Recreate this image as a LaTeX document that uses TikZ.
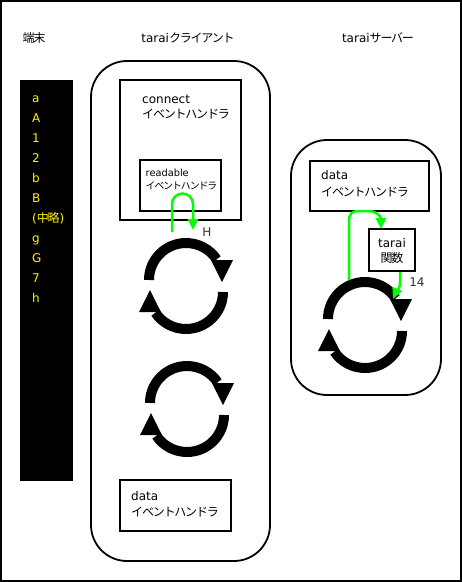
\documentclass[tikz,border=0pt]{standalone}
\usepackage{fontspec}
\setmainfont{DejaVu Sans}
\newfontfamily\jpfont{Noto Sans CJK JP}[LetterSpace=-10]
\newcommand\jp[1]{{\jpfont #1}}
\usetikzlibrary{arrows.meta}
\tikzset{
  box/.style={draw, line width=1.8pt, inner sep=0pt},
  roundbox/.style={draw, line width=1.8pt, rounded corners=36pt, inner sep=0pt},
  txt/.style={anchor=base west, inner sep=0pt, font=\fontsize{12}{14}\selectfont},
  smalltxt/.style={anchor=base west, inner sep=0pt, font=\fontsize{9.8}{12}\selectfont},
  title/.style={anchor=base, inner sep=0pt, font=\fontsize{12}{14}\selectfont},
  termtxt/.style={anchor=base west, inner sep=0pt, text=yellow, font=\fontsize{12}{14}\selectfont},
  lbl/.style={anchor=base, inner sep=0pt, text=black!80, font=\fontsize{12}{14}\selectfont},
  garrow/.style={draw=green, line width=2.5pt, -{Triangle[length=11pt,width=10pt]}},
  pics/loopicon/.style={code={
    \draw[line width=10pt] (-37,6) arc[start angle=180,end angle=34,radius=37pt];
    \fill (25,26) -- (47,26) -- (36,4) -- cycle;
    \draw[line width=10pt] (37,-6) arc[start angle=0,end angle=-146,radius=37pt];
    \fill (-25,-26) -- (-47,-26) -- (-36,-4) -- cycle;
  }}
}
\begin{document}
\begin{tikzpicture}[x=1pt,y=1pt]
\useasboundingbox (0,0) rectangle (462,-582);
\fill[white] (0,0) rectangle (462,-582);
\draw[line width=2pt] (1,-1) rectangle (461,-581);

% titles
\node[title] (tterm) at (34,-42) {\jp{端末}};
\node[title] (tclient) at (188,-42) {tarai\jp{クライアント}};
\node[title] (tserver) at (378,-42) {tarai\jp{サーバー}};

% terminal
\node[fill=black, minimum width=53pt, minimum height=401pt, inner sep=0pt] (term) at (46.5,-280.5) {};
\foreach \t [count=\i] in {a,A,1,2,b,B,{(\jp{中略})},g,G,7,h}
  \node[termtxt] (term\i) at (32,{-102-20*(\i-1)}) {\t};

% client
\node[roundbox, minimum width=179pt, minimum height=500pt] (client) at (180.5,-311) {};
\node[box, minimum width=121pt, minimum height=140pt] (connect) at (180.5,-150) {};
\node[txt] (c1) at (142,-103) {connect};
\node[txt] (c2) at (142,-118.5) {\jp{イベントハンドラ}};
\node[box, minimum width=81pt, minimum height=51pt] (readable) at (180.5,-185.5) {};
\node[smalltxt] (r1) at (145.5,-176.7) {readable};
\node[smalltxt] (r2) at (145.5,-189.5) {\jp{イベントハンドラ}};
\node[box, minimum width=111pt, minimum height=51pt] (cdata) at (175.5,-505.5) {};
\node[txt] (cd1) at (131,-500.5) {data};
\node[txt] (cd2) at (131,-516.5) {\jp{イベントハンドラ}};

\pic at (186,-286) {loopicon};
\pic at (187,-409) {loopicon};

\coordinate (g1s) at (172,-232);
\coordinate (g1e) at (193,-230);
\draw[garrow] (g1s) -- ++(0,28) arc[start angle=180,end angle=0,radius=10.5pt] -- (g1e);
\node[lbl] (h) at (207,-236) {H};

% server
\node[roundbox, minimum width=150pt, minimum height=255pt] (server) at (366,-267.5) {};
\node[box, minimum width=119pt, minimum height=50pt] (sdata) at (369.5,-186) {};
\node[txt] (sd1) at (321,-179.5) {data};
\node[txt] (sd2) at (321,-196.5) {\jp{イベントハンドラ}};
\node[box, minimum width=46pt, minimum height=42pt] (tarai) at (392,-250) {};
\node[title] (ta1) at (392,-247) {tarai};
\node[title] (ta2) at (392,-262.5) {\jp{関数}};

\pic at (365,-325) {loopicon};

\coordinate (g2s) at (349,-280);
\coordinate (g2e) at (381,-229);
\draw[garrow] (g2s) -- (349,-222) .. controls (349,-213) and (352,-211) .. (360,-211)
  -- (368,-211) .. controls (377,-211) and (381,-217) .. (g2e);
\coordinate (g3s) at ([xshift=8pt]tarai.south);
\coordinate (g3e) at (393,-299);
\draw[garrow] (g3s) -- (400,-282) .. controls (400,-290) and (396,-292) .. (g3e);
\node[lbl] (n14) at (417,-286.5) {14};
\end{tikzpicture}
\end{document}
